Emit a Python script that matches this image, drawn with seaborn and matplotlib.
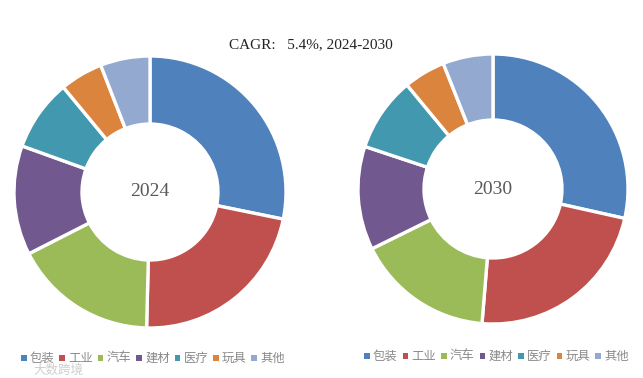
import matplotlib
matplotlib.use("Agg")
import matplotlib.pyplot as plt
from matplotlib.patches import Rectangle
import seaborn as sns

categories = ["包装", "工业", "汽车", "建材", "医疗", "玩具", "其他"]
shares_2024 = [28.2, 22.2, 17.1, 13.0, 8.5, 5.1, 5.9]
shares_2030 = [28.5, 22.8, 16.4, 12.4, 8.9, 5.0, 6.0]
colors = ["#4F81BD", "#C0504D", "#9BBB59", "#71588F", "#4198AF", "#DB843D", "#93A9CF"]
title = "CAGR:   5.4%, 2024-2030"
labels = ["2024", "2030"]

sns.set_theme(style="white")
plt.rcParams["font.family"] = ["Noto Sans CJK SC", "DejaVu Sans"]
W, H = 643, 378
fig = plt.figure(figsize=(W / 100, H / 100), dpi=100, facecolor="white")
palette = sns.color_palette(colors)

def donut(values, label, cx, cy, r, hole):
    ax = fig.add_axes([(cx - r) / W, 1 - (cy + r) / H, 2 * r / W, 2 * r / H])
    ax.pie(values, colors=palette, startangle=90, counterclock=False, radius=1,
           wedgeprops=dict(width=1 - hole / r, edgecolor="white", linewidth=2.4))
    ax.set_xlim(-1, 1); ax.set_ylim(-1, 1)
    ax.set_aspect("equal")
    ax.text(0, 0, label, ha="center", va="center", fontsize=14,
            family="Liberation Serif", color="#595959")

donut(shares_2024, labels[0], 150, 192, 136, 68)
donut(shares_2030, labels[1], 493, 189, 135, 69)

fig.text(311 / W, 1 - 45 / H, title, ha="center", va="center", fontsize=11,
         family="Liberation Serif", color="#222222")

def legend(x_start, y, step, size):
    for i, name in enumerate(categories):
        x = x_start + i * step
        fig.add_artist(Rectangle(((x - 5) / W, 1 - (y + 2.5) / H), 5.5 / W, 5.5 / H,
                                 transform=fig.transFigure, color=palette[i], lw=0))
        fig.text((x + 4) / W, 1 - y / H, name, ha="left", va="center",
                 fontsize=size, color="#8a8a8a")

legend(26, 358, 38.4, 8.9)
legend(369, 356, 38.5, 8.9)

fig.text(33 / W, 1 - 370 / H, "大数跨境", ha="left", va="center", fontsize=9,
         color="#c9c9c9", alpha=0.9)

fig.savefig("out.png", dpi=100, facecolor="white")
